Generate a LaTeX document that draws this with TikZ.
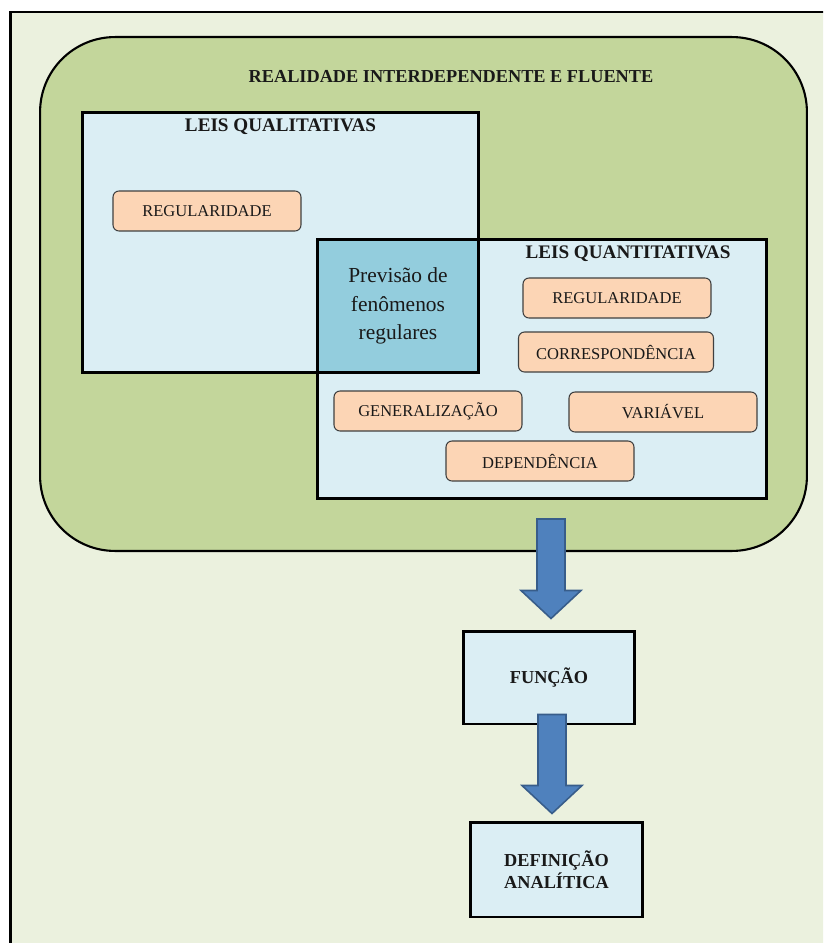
\documentclass[tikz,border=0pt]{standalone}
\usepackage{fontspec}
\setmainfont{Liberation Serif}
\usepackage{tikz}
\usetikzlibrary{calc}
\usetikzlibrary{positioning}
\definecolor{PaleGreen}{HTML}{EBF1DE}
\definecolor{LeafGreen}{HTML}{C3D69B}
\definecolor{LightBlue}{HTML}{DBEEF4}
\definecolor{DeepBlue}{HTML}{93CDDD}
\definecolor{LightOrange}{HTML}{FCD5B5}
\definecolor{ArrowBlue}{HTML}{4F81BD}
\definecolor{ArrowBorder}{HTML}{385D8A}

\newcommand{\headfont}{\fontsize{10.4pt}{12.5pt}\selectfont\bfseries}
\newcommand{\lawfont}{\fontsize{10.9pt}{13pt}\selectfont\bfseries}
\newcommand{\tagfont}{\fontsize{9.4pt}{11pt}\selectfont}
\newcommand{\previsaofont}{\fontsize{12.2pt}{16.4pt}\selectfont}

% block arrow: #1 top of the shaft, #2 tip
\newcommand{\bigarrow}[2]{%
  \draw[blockarrow] ($(#1)+(-14,0)$) -- ($(#2)+(-14,-28)$) -- ($(#2)+(-30,-28)$) -- (#2)
    -- ($(#2)+(30,-28)$) -- ($(#2)+(14,-28)$) -- ($(#1)+(14,0)$) -- cycle;}

\begin{document}
\begin{tikzpicture}[x=0.02cm, y=-0.02cm,
  box/.style={draw=black, line width=1.7pt, fill=LightBlue, inner sep=0pt, text=black!90},
  tag/.style={draw=black!75, line width=0.6pt, fill=LightOrange, rounded corners=0.12cm,
    minimum width=3.76cm, minimum height=0.8cm, inner sep=0pt, font=\tagfont, text=black!90},
  heading/.style={font=\headfont, text=black!90, inner sep=0pt},
  blockarrow/.style={draw=ArrowBorder, line width=0.9pt, fill=ArrowBlue}]

\useasboundingbox (0,0) rectangle (823,943);
\clip (0,0) rectangle (823,943);

% page frame
\draw[line width=1.7pt, fill=PaleGreen] (10.5,12) rectangle (850,970);

% outer green region
\node[draw=black, line width=1.2pt, fill=LeafGreen, rounded corners=1.5cm,
  minimum width=15.34cm, minimum height=10.28cm, inner sep=0pt] (realidade) at (423.5,294) {};
\node[heading] (realidadeTitle) at ($(realidade.north)+(27.5,41)$) {REALIDADE INTERDEPENDENTE E FLUENTE};

% qualitative laws
\node[box, minimum width=7.94cm, minimum height=5.22cm] (qual) at (280.5,242.5) {};
\node[heading, font=\lawfont] (qualTitle) at ($(qual.north)+(0,16)$) {LEIS QUALITATIVAS};
\node[tag] (regQual) at (207,211) {REGULARIDADE};

% quantitative laws
\node[box, minimum width=9cm, minimum height=5.2cm] (quant) at (542,369) {};
\node[heading, font=\lawfont] (quantTitle) at ($(quant.north)+(86,16)$) {LEIS QUANTITATIVAS};

% overlap
\node[box, fill=DeepBlue, minimum width=3.24cm, minimum height=2.68cm,
  font=\previsaofont, align=center] (previsao) at (398,306) {Previsão de\\fenômenos\\regulares};

\node[tag] (regQuant) at (617,298) {REGULARIDADE};
\node[tag, minimum width=3.9cm] (corresp) at (616,352) {CORRESPONDÊNCIA};
\node[tag] (general) at (428,411) {GENERALIZAÇÃO};
\node[tag] (variavel) at (663,412) {VARIÁVEL};
\node[tag] (depend) at (540,461) {DEPENDÊNCIA};

% lower chain
\node[box, minimum width=3.44cm, minimum height=1.86cm, font=\headfont] (funcao) at (549,677.5) {FUNÇÃO};
\node[box, minimum width=3.46cm, minimum height=1.9cm, font=\headfont, align=center] (definicao) at (556.5,869.5) {DEFINIÇÃO\\ANALÍTICA};

\coordinate (arrowAtop) at ($(realidade.south -| funcao.north)+(2,-33)$);
\coordinate (arrowAtip) at ($(funcao.north)+(2,-11)$);
\coordinate (arrowBtop) at ($(funcao.south)+(3,-11)$);
\coordinate (arrowBtip) at ($(definicao.north -| funcao.south)+(3,-7)$);
\bigarrow{arrowAtop}{arrowAtip}
\bigarrow{arrowBtop}{arrowBtip}

\end{tikzpicture}
\end{document}
